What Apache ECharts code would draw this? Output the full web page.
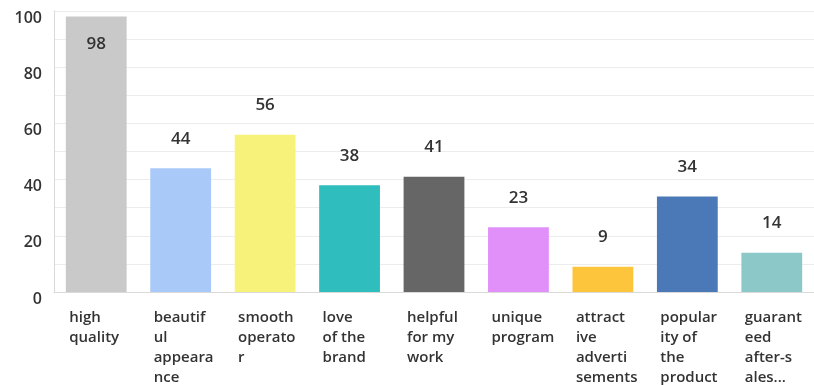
<!DOCTYPE html>
<html>
<head>
<meta charset="utf-8">
<script src="https://cdn.jsdelivr.net/npm/echarts@6/dist/echarts.min.js"></script>
<style>
  html, body { margin: 0; padding: 0; background: #fff; }
  #chart { width: 814px; height: 385px; }
</style>
</head>
<body>
<div id="chart"></div>
<script>
// Answer categories, already wrapped the way they appear under each bar
const categories = [
  'high\nquality',
  'beautif\nul\nappeara\nnce',
  'smooth\noperato\nr',
  'love\nof the\nbrand',
  'helpful\nfor my\nwork',
  'unique\nprogram',
  'attract\nive\nadverti\nsements',
  'popular\nity of\nthe\nproduct',
  'guarant\need\nafter-s\nales...'
];
// Percentage of respondents per answer
const values = [98, 44, 56, 38, 41, 23, 9, 34, 14];
// One fill per answer
const barColors = ['#c9c9c9', '#a9c9f9', '#f6f27a', '#30bdbd', '#666666', '#e290f9', '#fdc53b', '#4b79b7', '#8cc8c7'];
// Labelled ticks on the value axis
const yTickLabels = [0, 20, 40, 60, 80, 100];

const textColor = '#333333';
const fontFamily = '"Open Sans", "Noto Sans", sans-serif';

const seriesData = values.map((v, i) => {
  const item = { value: v, itemStyle: { color: barColors[i] } };
  // the tallest bar carries its value inside, the rest above
  if (v > 90) {
    item.label = { position: 'insideTop', distance: 19 };
  }
  return item;
});

const chart = echarts.init(document.getElementById('chart'), null, { renderer: 'canvas' });
chart.setOption({
  animation: false,
  backgroundColor: '#ffffff',
  grid: { left: 54, right: 0, top: 11, bottom: 93, containLabel: false, outerBoundsMode: 'none' },
  xAxis: {
    type: 'category',
    data: categories,
    axisLine: { show: true, lineStyle: { color: '#d9d9d9', width: 1 } },
    axisTick: { show: false },
    axisLabel: {
      interval: 0,
      margin: 16,
      color: textColor,
      fontFamily: fontFamily,
      fontSize: 15,
      fontWeight: 600,
      lineHeight: 20,
      verticalAlign: 'top',
      formatter: (val) => val.split('\n').map(l => '{a|' + l + '}').join('\n'),
      rich: {
        a: {
          width: 54, align: 'left', color: textColor, fontFamily: fontFamily,
          fontSize: 15, fontWeight: 600, lineHeight: 20
        }
      }
    }
  },
  yAxis: {
    type: 'value',
    min: 0,
    max: 100,
    interval: 10,
    axisLine: { show: true, lineStyle: { color: '#d9d9d9', width: 1 } },
    axisTick: { show: false },
    splitLine: { show: true, lineStyle: { color: '#ececec', width: 1 } },
    axisLabel: {
      margin: 12,
      color: textColor,
      fontFamily: fontFamily,
      fontSize: 16,
      fontWeight: 600,
      formatter: (v) => (yTickLabels.indexOf(v) >= 0 ? '{v|' + v + '}' : ''),
      rich: {
        v: {
          color: textColor, fontFamily: fontFamily, fontSize: 16, fontWeight: 600,
          padding: [14, 0, 0, 0]
        }
      }
    }
  },
  series: [{
    type: 'bar',
    data: seriesData,
    barWidth: '72%',
    label: {
      show: true,
      position: 'top',
      distance: 21,
      color: textColor,
      fontFamily: fontFamily,
      fontSize: 17,
      fontWeight: 600
    }
  }]
});
</script>
</body>
</html>
